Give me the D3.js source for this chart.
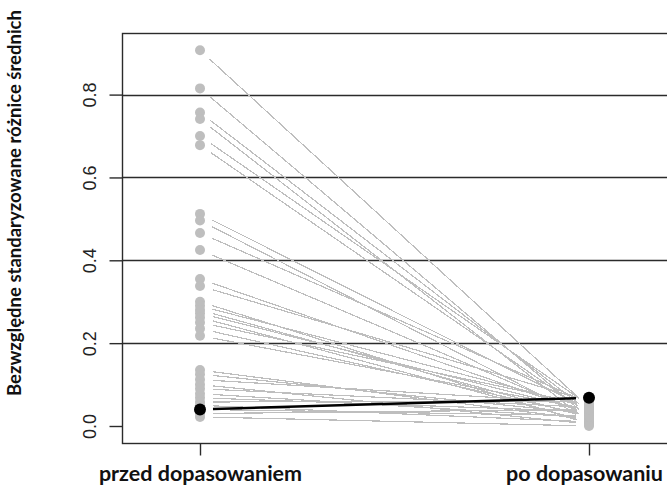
<!DOCTYPE html>
<html>
<head>
<meta charset="utf-8">
<script src="https://cdn.jsdelivr.net/npm/d3@7/dist/d3.min.js"></script>
<style>
  body { margin: 0; background: #fff; }
  svg { display: block; }
</style>
</head>
<body>
<svg id="chart" width="667" height="492"></svg>
<script>
const groups = ["przed dopasowaniem", "po dopasowaniu"];
const yTicks = [0.0, 0.2, 0.4, 0.6, 0.8];

// absolute standardized mean differences, before / after matching
const before = [0.907, 0.815, 0.757, 0.741, 0.700, 0.678, 0.512, 0.496, 0.466, 0.425,
  0.355, 0.338, 0.300, 0.290, 0.280, 0.272, 0.262, 0.250, 0.235, 0.218,
  0.135, 0.125, 0.112, 0.100, 0.090, 0.078, 0.068, 0.058, 0.050, 0.040, 0.030, 0.022];
const after = [0.045, 0.020, 0.035, 0.010, 0.050, 0.030, 0.040, 0.015, 0.055, 0.025,
  0.030, 0.060, 0.005, 0.045, 0.020, 0.035, 0.010, 0.050, 0.025, 0.040,
  0.015, 0.030, 0.055, 0.005, 0.045, 0.020, 0.035, 0.060, 0.010, 0.025, 0.040, 0.000];
const meanPair = [0.040, 0.068];

const margin = { top: 33, right: -1, bottom: 50, left: 122 };
const width = 667, height = 492;
const gap = 13;

const svg = d3.select("#chart");

const x = d3.scalePoint().domain(groups).range([200, 589]);
const y = d3.scaleLinear().domain([0, 0.8]).range([426, 94.6]);

const plotRight = width - margin.right;
const plotBottom = height - margin.bottom + 1;

// grid lines
svg.append("g")
  .selectAll("line")
  .data(yTicks.slice(1))
  .join("line")
  .attr("x1", margin.left).attr("x2", plotRight)
  .attr("y1", (d) => Math.round(y(d)) + 0.5).attr("y2", (d) => Math.round(y(d)) + 0.5)
  .attr("stroke", "#2b2b2b")
  .attr("stroke-width", 1.6);

// connecting segments with a gap round the points, like type = "b"
const seg = (a, b) => {
  const x1 = x(groups[0]), y1 = y(a), x2 = x(groups[1]), y2 = y(b);
  const len = Math.hypot(x2 - x1, y2 - y1);
  const ux = (x2 - x1) / len, uy = (y2 - y1) / len;
  return [x1 + ux * gap, y1 + uy * gap, x2 - ux * gap, y2 - uy * gap];
};

const pairs = before.map((b, i) => [b, after[i]]);

svg.append("g")
  .selectAll("line")
  .data(pairs)
  .join("line")
  .each(function (d) {
    const s = seg(d[0], d[1]);
    d3.select(this).attr("x1", s[0]).attr("y1", s[1]).attr("x2", s[2]).attr("y2", s[3]);
  })
  .attr("stroke", "#bebebe")
  .attr("stroke-width", 1.2)
  .attr("shape-rendering", "crispEdges");

const ptsG = svg.append("g");
ptsG.selectAll("circle.b")
  .data(before)
  .join("circle")
  .attr("class", "b")
  .attr("cx", x(groups[0]))
  .attr("cy", (d) => y(d))
  .attr("r", 5)
  .attr("fill", "#bebebe");
ptsG.selectAll("circle.a")
  .data(after)
  .join("circle")
  .attr("class", "a")
  .attr("cx", x(groups[1]))
  .attr("cy", (d) => y(d))
  .attr("r", 5)
  .attr("fill", "#bebebe");

// mean line in black
const ms = seg(meanPair[0], meanPair[1]);
svg.append("line")
  .attr("x1", ms[0]).attr("y1", ms[1]).attr("x2", ms[2]).attr("y2", ms[3])
  .attr("stroke", "#000")
  .attr("stroke-width", 2.6);
svg.append("g")
  .selectAll("circle")
  .data(meanPair)
  .join("circle")
  .attr("cx", (d, i) => x(groups[i]))
  .attr("cy", (d) => y(d))
  .attr("r", 6)
  .attr("fill", "#000");

// box
svg.append("rect")
  .attr("x", margin.left + 0.5).attr("y", margin.top + 0.5)
  .attr("width", plotRight - margin.left).attr("height", plotBottom - margin.top)
  .attr("fill", "none")
  .attr("stroke", "#2b2b2b")
  .attr("stroke-width", 1.4);

// y axis
const yAxis = svg.append("g")
  .attr("transform", `translate(${margin.left + 0.5},0)`)
  .call(d3.axisLeft(y).tickValues(yTicks).tickSize(13).tickPadding(0).tickFormat(d3.format(".1f")));
yAxis.select(".domain").remove();
yAxis.selectAll(".tick line").attr("stroke", "#2b2b2b").attr("stroke-width", 1.4);
yAxis.selectAll(".tick text")
  .attr("transform", "rotate(-90)")
  .attr("x", 0)
  .attr("y", -33)
  .attr("dy", "0.35em")
  .attr("text-anchor", "middle")
  .attr("font-family", "Liberation Sans, Arial, sans-serif")
  .attr("font-size", 18)
  .attr("fill", "#222");

// x axis
const xAxis = svg.append("g")
  .attr("transform", `translate(0,${plotBottom + 0.5})`)
  .call(d3.axisBottom(x).tickSize(12).tickPadding(10));
xAxis.select(".domain").remove();
xAxis.selectAll(".tick line").attr("stroke", "#2b2b2b").attr("stroke-width", 1.4);
xAxis.selectAll(".tick text")
  .attr("font-family", "Lato, sans-serif")
  .attr("font-weight", "bold")
  .attr("font-size", 21.5)
  .attr("fill", "#111")
  .attr("dx", (d, i) => (i === 1 ? -5 : 0));

// y title
svg.append("text")
  .attr("transform", `translate(15,203) rotate(-90)`)
  .attr("text-anchor", "middle")
  .attr("dy", "0.35em")
  .attr("font-family", "Lato, sans-serif")
  .attr("font-weight", "bold")
  .attr("font-size", 18.5)
  .attr("fill", "#111")
  .text("Bezwzględne standaryzowane różnice średnich");
</script>
</body>
</html>
